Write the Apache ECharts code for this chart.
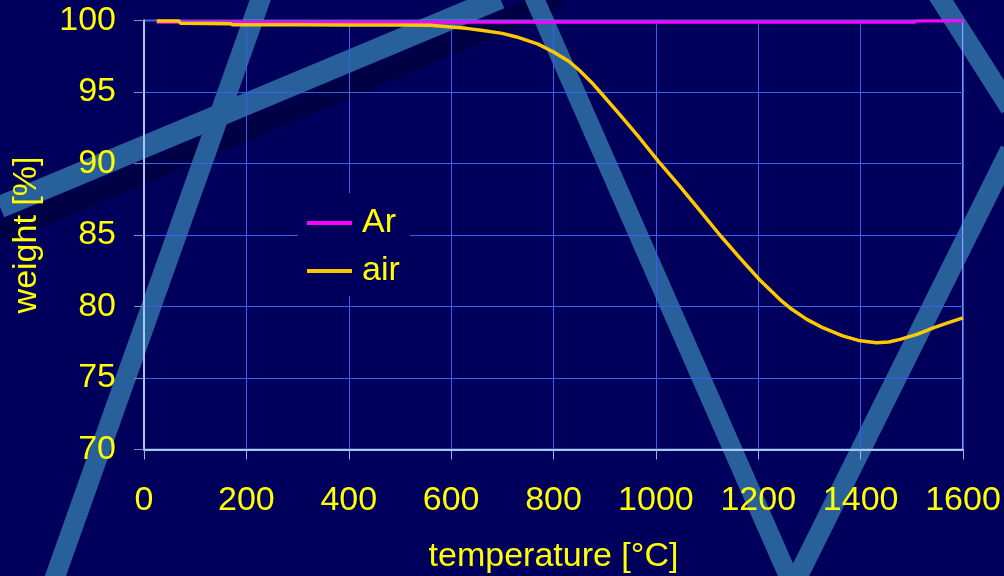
<!DOCTYPE html>
<html>
<head>
<meta charset="utf-8">
<script src="https://cdn.jsdelivr.net/npm/echarts@6/dist/echarts.min.js"></script>
<style>
html,body{margin:0;padding:0;background:#00005c;}
#chart{width:1004px;height:576px;}
</style>
</head>
<body>
<div id="chart"></div>
<script>
// values
const airTemp = [25, 68, 72, 168, 174, 300, 400, 500, 560, 600, 630, 662, 700, 728, 770, 800, 830, 851, 875, 891, 930, 969, 1005, 1047, 1086, 1125, 1164, 1203, 1242, 1262, 1295, 1327, 1365, 1399, 1431, 1455, 1477, 1510, 1542, 1570, 1600];
const airWeight = [99.97, 99.96, 99.8, 99.78, 99.7, 99.7, 99.69, 99.68, 99.66, 99.55, 99.45, 99.3, 99.1, 98.85, 98.35, 97.8, 97.15, 96.5, 95.65, 95.0, 93.4, 91.75, 90.15, 88.4, 86.7, 85.0, 83.4, 81.85, 80.5, 79.9, 79.1, 78.5, 77.95, 77.6, 77.46, 77.52, 77.7, 78.05, 78.5, 78.85, 79.2];
const arTemp = [25, 400, 800, 1200, 1505, 1512, 1600];
const arWeight = [99.88, 99.88, 99.88, 99.88, 99.88, 99.97, 99.97];

const font = '"Liberation Sans", Arial, sans-serif';
const yellow = '#ffff00';

function pairs(xs, ys) {
    return xs.map(function (x, i) { return [x, ys[i]]; });
}

// decorative stripes of the slide background
function stripe(x1, y1, x2, y2, w, color) {
    let dx = x2 - x1, dy = y2 - y1;
    let len = Math.sqrt(dx * dx + dy * dy);
    let nx = -dy / len * w / 2, ny = dx / len * w / 2;
    return {
        type: 'polygon',
        silent: true,
        z: -10,
        shape: { points: [[x1 + nx, y1 + ny], [x2 + nx, y2 + ny], [x2 - nx, y2 - ny], [x1 - nx, y1 - ny]] },
        style: { fill: color }
    };
}

const chart = echarts.init(document.getElementById('chart'));
const option = {
    backgroundColor: '#00005c',
    animation: false,
    graphic: [
        stripe(0, 233, 560, -2, 22, '#000045'),
        stripe(0, 207, 500, -2, 22, '#28609c'),
        stripe(262, -5, 54, 580, 20, '#28609c'),
        stripe(533, -5, 790, 580, 19, '#28609c'),
        stripe(796, 580, 1010, 150, 20, '#28609c'),
        stripe(938, -5, 1010, 108, 20, '#28609c')
    ],
    grid: {
        left: 144,
        right: 41,
        top: 20.5,
        bottom: 126.5,
        outerBoundsMode: 'none',
        show: true,
        borderColor: '#a8c8f8',
        borderWidth: 1.5,
        backgroundColor: 'transparent'
    },
    legend: {
        orient: 'vertical',
        left: 298,
        top: 193,
        padding: [13, 10, 8, 9],
        itemGap: 14,
        itemWidth: 45,
        itemHeight: 4,
        icon: 'rect',
        backgroundColor: '#00005c',
        textStyle: { color: yellow, fontSize: 34, fontFamily: font, padding: [0, 0, 0, 5] },
        data: ['Ar', 'air']
    },
    xAxis: {
        type: 'value',
        min: 0,
        max: 1600,
        interval: 200,
        name: 'temperature [°C]',
        nameLocation: 'middle',
        nameGap: 90,
        nameTextStyle: { color: yellow, fontSize: 34, fontFamily: font },
        axisLine: { show: true, lineStyle: { color: '#a8c8f8', width: 2 } },
        axisTick: { show: true, length: 10, lineStyle: { color: '#9ab4e8' } },
        axisLabel: {
            color: yellow, fontSize: 34, fontFamily: font, margin: 34,
            formatter: function (v) { return String(v); }
        },
        splitLine: { show: true, lineStyle: { color: '#3a5ff0', width: 1 } }
    },
    yAxis: {
        type: 'value',
        min: 70,
        max: 100,
        interval: 5,
        name: 'weight [%]',
        nameLocation: 'middle',
        nameGap: 100,
        nameTextStyle: { color: yellow, fontSize: 34, fontFamily: font },
        axisLine: { show: true, lineStyle: { color: '#a8c8f8', width: 2 } },
        axisTick: { show: true, length: 10, lineStyle: { color: '#7f90c4' } },
        axisLabel: { color: yellow, fontSize: 34, fontFamily: font, margin: 28 },
        splitLine: { show: true, lineStyle: { color: '#3a5ff0', width: 1 } }
    },
    series: [
        {
            name: 'Ar',
            type: 'line',
            showSymbol: false,
            color: '#ff00ff',
            lineStyle: { width: 3, color: '#ff00ff' },
            data: pairs(arTemp, arWeight),
            z: 3
        },
        {
            name: 'air',
            type: 'line',
            showSymbol: false,
            smooth: false,
            color: '#ffc800',
            lineStyle: { width: 3.5, color: '#ffc800', join: 'round' },
            data: pairs(airTemp, airWeight),
            z: 4
        }
    ]
};
chart.setOption(option);
</script>
</body>
</html>
